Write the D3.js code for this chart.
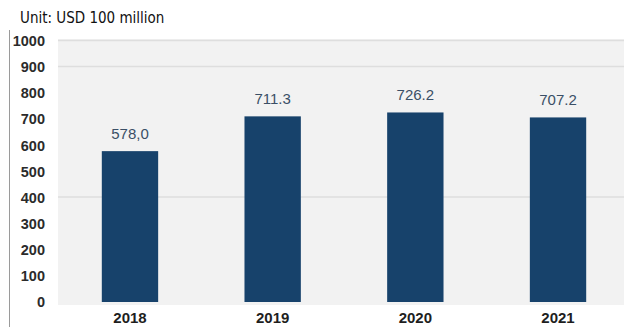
<!DOCTYPE html>
<html>
<head>
<meta charset="utf-8">
<script src="https://cdn.jsdelivr.net/npm/d3@7"></script>
<style>
  html, body { margin: 0; padding: 0; background: #fff; }
  svg { display: block; }
</style>
</head>
<body>
<svg id="chart" width="624" height="327"></svg>
<script>
// Annual values, USD 100 million
const years = ["2018", "2019", "2020", "2021"];
const values = [578.0, 711.3, 726.2, 707.2];
const valueLabels = ["578,0", "711.3", "726.2", "707.2"];
const yTicks = [0, 100, 200, 300, 400, 500, 600, 700, 800, 900, 1000];
const gridValues = [1000, 900, 400];
const unitText = "Unit: USD 100 million";

const svg = d3.select("#chart");
const W = 624, H = 327;
const font = "'Liberation Sans', Arial, sans-serif";

const x = d3.scaleBand().domain(years).range([59, 629]).paddingInner(0.605).paddingOuter(0.3);
const y = d3.scaleLinear().domain([0, 1000]).range([302, 41]);

// left frame line
svg.append("line")
  .attr("x1", 9.5).attr("x2", 9.5).attr("y1", 30).attr("y2", H)
  .attr("stroke", "#9a9a9a").attr("stroke-width", 1);

// plot panel
svg.append("rect")
  .attr("x", 58).attr("y", y(1000) - 2)
  .attr("width", W - 58).attr("height", y(0) - y(1000) + 5)
  .attr("fill", "#f2f2f2");

svg.selectAll("line.grid").data(gridValues).join("line")
  .attr("class", "grid")
  .attr("x1", 58).attr("x2", W)
  .attr("y1", d => y(d) - 0.5).attr("y2", d => y(d) - 0.5)
  .attr("stroke", "#dedede").attr("stroke-width", 1.5);

// y axis labels
const yAxis = d3.axisLeft(y).tickValues(yTicks).tickFormat(d3.format("d")).tickSize(0).tickPadding(0);
const yg = svg.append("g").attr("transform", "translate(45,0)").call(yAxis);
yg.select(".domain").remove();
yg.attr("font-family", font).attr("font-size", 14.5);
yg.selectAll("text")
  .attr("font-weight", "bold").attr("fill", "#2b2b2b");

// x axis labels
const xAxis = d3.axisBottom(x).tickSize(0).tickPadding(0);
const xg = svg.append("g").attr("transform", "translate(0,312)").call(xAxis);
xg.select(".domain").remove();
xg.attr("font-family", font).attr("font-size", 15);
xg.selectAll("text")
  .attr("font-weight", "bold").attr("fill", "#1e1e1e");

// bars
svg.selectAll("rect.bar").data(values).join("rect")
  .attr("class", "bar")
  .attr("x", (d, i) => x(years[i]))
  .attr("width", x.bandwidth())
  .attr("y", d => y(d))
  .attr("height", d => y(0) - y(d))
  .attr("fill", "#17426b");

// value labels
svg.selectAll("text.val").data(values).join("text")
  .attr("class", "val")
  .attr("x", (d, i) => x(years[i]) + x.bandwidth() / 2)
  .attr("y", d => y(d) - 12)
  .attr("text-anchor", "middle")
  .attr("font-family", font)
  .attr("font-size", 15)
  .attr("fill", "#3a4f66")
  .text((d, i) => valueLabels[i]);

// unit caption
svg.append("text")
  .attr("x", 20).attr("y", 23)
  .attr("font-family", "'Liberation Sans Narrow', 'DejaVu Sans Condensed', sans-serif")
  .attr("font-size", 15)
  .attr("fill", "#111")
  .text(unitText);
</script>
</body>
</html>
